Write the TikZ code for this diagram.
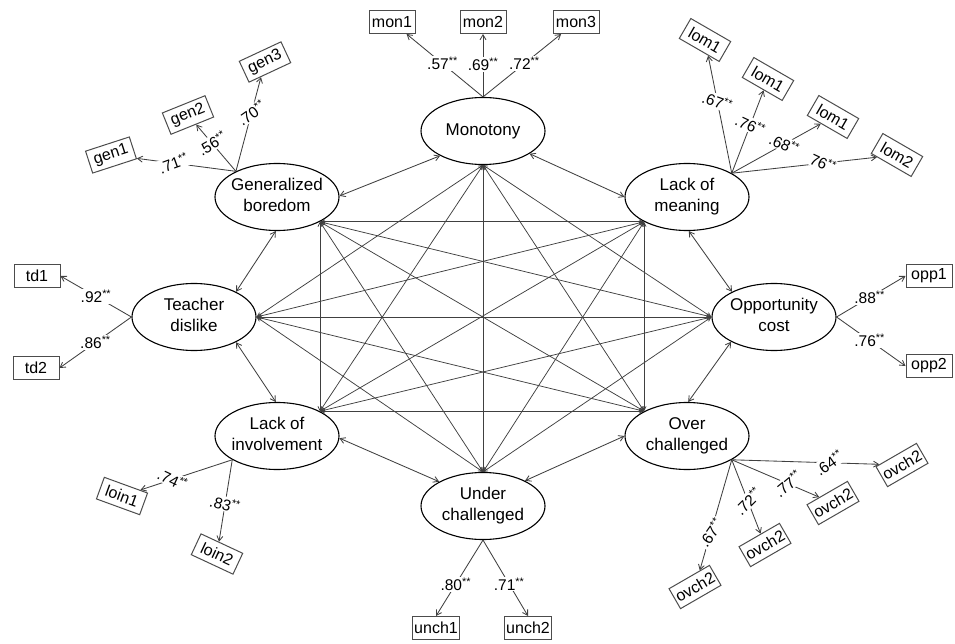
\documentclass[tikz,border=0pt]{standalone}
\usepackage{fontspec}
\setmainfont{Liberation Sans}
\usetikzlibrary{shapes.geometric,arrows.meta}
\newcommand\twol[2]{\makebox[0pt]{\begin{tabular}{@{}c@{}}#1\\#2\end{tabular}}}
\newcommand\sst{\textsuperscript{**}}
\tikzset{
  lat/.style={ellipse, draw=black, line width=1.1pt, minimum width=124pt, minimum height=67pt, inner sep=0pt, font=\fontsize{17}{21}\selectfont},
  obs/.style={draw=black!70, line width=1pt, minimum width=46pt, minimum height=23pt, inner sep=2pt, fill=white, font=\fontsize{16}{18}\selectfont},
  coef/.style={fill=white, inner sep=1pt, font=\fontsize{15.5}{17}\selectfont},
  ld/.style={draw=black!75, line width=0.85pt, -{Straight Barb[length=5pt,width=6pt]}},
  cov/.style={draw=black!75, line width=0.85pt, {Straight Barb[length=5pt,width=6pt]}-{Straight Barb[length=5pt,width=6pt]}},
  corr/.style={draw=black!75, line width=0.75pt, {Straight Barb[length=4pt,width=4pt]}-{Straight Barb[length=4pt,width=4pt]}}
}
\begin{document}
\begin{tikzpicture}[x=1pt,y=-1pt]
\useasboundingbox (0,0) rectangle (955,644);
% latent factors
\node[lat] (mon) at (483,131) {\makebox[0pt]{Monotony}};
\node[lat] (gen) at (277,197) {\twol{Generalized}{boredom}};
\node[lat] (lom) at (687,197) {\twol{Lack of}{meaning}};
\node[lat] (td)  at (194,317) {\twol{Teacher}{dislike}};
\node[lat] (opp) at (774,317) {\twol{Opportunity}{cost}};
\node[lat] (loi) at (277,436) {\twol{Lack of}{involvement}};
\node[lat] (ovc) at (687,436) {\twol{Over}{challenged}};
\node[lat] (unc) at (483,506) {\twol{Under}{challenged}};
% adjacent covariances
\draw[cov] (gen.1) -- (mon.210);
\draw[cov] (mon.334) -- (lom.180);
\draw[cov] (lom.273) -- (opp.149);
\draw[cov] (opp.210) -- (ovc.88);
\draw[cov] (ovc.180) -- (unc.31);
\draw[cov] (unc.151) -- (loi.358);
\draw[cov] (loi.92) -- (td.329);
\draw[cov] (td.31) -- (gen.268);
% inner correlation anchors
\coordinate (gI) at (gen.330);
\coordinate (mI) at (mon.270);
\coordinate (lI) at (lom.210);
\coordinate (tI) at (td.0);
\coordinate (oI) at (opp.180);
\coordinate (iI) at (loi.30);
\coordinate (vI) at (ovc.150);
\coordinate (uI) at (unc.90);
\draw[corr] (mI) -- (tI);
\draw[corr] (mI) -- (oI);
\draw[corr] (mI) -- (iI);
\draw[corr] (mI) -- (vI);
\draw[corr] (mI) -- (uI);
\draw[corr] (gI) -- (lI);
\draw[corr] (gI) -- (oI);
\draw[corr] (gI) -- (iI);
\draw[corr] (gI) -- (vI);
\draw[corr] (gI) -- (uI);
\draw[corr] (lI) -- (tI);
\draw[corr] (lI) -- (iI);
\draw[corr] (lI) -- (vI);
\draw[corr] (lI) -- (uI);
\draw[corr] (tI) -- (oI);
\draw[corr] (tI) -- (vI);
\draw[corr] (tI) -- (uI);
\draw[corr] (oI) -- (iI);
\draw[corr] (oI) -- (uI);
\draw[corr] (iI) -- (vI);
% loading origins
\coordinate (gP) at (gen.148);
\coordinate (mP) at (mon.90);
\coordinate (lP) at (lom.28);
\coordinate (tP) at (td.180);
\coordinate (oP) at (opp.0);
\coordinate (iP) at (loi.208);
\coordinate (uP) at (unc.270);
\coordinate (vP) at (ovc.332);
% indicators
\node[obs] (mon1) at (392,22) {mon1};
\node[obs] (mon2) at (483,22) {mon2};
\node[obs] (mon3) at (576,22) {mon3};
\node[obs, rotate=18] (gen1) at (111,155) {gen1};
\node[obs, rotate=22] (gen2) at (188,115) {gen2};
\node[obs, rotate=25] (gen3) at (265,62) {gen3};
\node[obs, rotate=-30] (lom1a) at (705,40) {lom1};
\node[obs, rotate=-30] (lom1b) at (768,79) {lom1};
\node[obs, rotate=-30] (lom1c) at (833,117) {lom1};
\node[obs, rotate=-30] (lom2) at (897,155) {lom2};
\node[obs] (td1) at (37,276) {td1};
\node[obs] (td2) at (36,368) {td2};
\node[obs] (opp1) at (929,276) {opp1};
\node[obs] (opp2) at (929,366) {opp2};
\node[obs, rotate=-20] (loin1) at (122,496) {loin1};
\node[obs, rotate=-25] (loin2) at (217,554) {loin2};
\node[obs] (unch1) at (436,628) {unch1};
\node[obs] (unch2) at (528,628) {unch2};
\node[obs, rotate=30] (ov1) at (695,587) {ovch2};
\node[obs, rotate=30] (ov2) at (765,545) {ovch2};
\node[obs, rotate=30] (ov3) at (833,503) {ovch2};
\node[obs, rotate=30] (ov4) at (902,465) {ovch2};
% loadings
\draw[ld] (mP) -- node[coef, pos=.53] {.57\sst} (mon1);
\draw[ld] (mP) -- node[coef, pos=.52] {.69\sst} (mon2);
\draw[ld] (mP) -- node[coef, pos=.53] {.72\sst} (mon3);
\draw[ld] (gP) -- node[coef, pos=.63, rotate=20] {.71\sst} (gen1);
\draw[ld] (gP) -- node[coef, pos=.6, rotate=30] {.56\sst} (gen2);
\draw[ld] (gP) -- node[coef, pos=.62, rotate=35] {.70\sst} (gen3);
\draw[ld] (lP) -- node[coef, pos=.61, rotate=-20] {.67\sst} (lom1a);
\draw[ld] (lP) -- node[coef, pos=.58, rotate=-25] {.76\sst} (lom1b);
\draw[ld] (lP) -- node[coef, pos=.59, rotate=-25] {.68\sst} (lom1c);
\draw[ld] (lP) -- node[coef, pos=.63, rotate=-25] {76\sst} (lom2);
\draw[ld] (tP) -- node[coef, pos=.5] {.92\sst} (td1.east);
\draw[ld] (tP) -- node[coef, pos=.5] {.86\sst} (td2.east);
\draw[ld] (oP) -- node[coef, pos=.48] {.88\sst} (opp1.west);
\draw[ld] (oP) -- node[coef, pos=.48] {.76\sst} (opp2.west);
\draw[ld] (iP) -- node[coef, pos=.65, rotate=-25] {.74\sst} (loin1);
\draw[ld] (iP) -- node[coef, pos=.54, rotate=-15] {.83\sst} (loin2);
\draw[ld] (uP) -- node[coef, pos=.58] {.80\sst} (unch1.north);
\draw[ld] (uP) -- node[coef, pos=.58] {.71\sst} (unch2.north);
\draw[ld] (vP) -- node[coef, pos=.66, rotate=55] {.67\sst} (ov1);
\draw[ld] (vP) -- node[coef, pos=.56, rotate=45] {.72\sst} (ov2);
\draw[ld] (vP) -- node[coef, pos=.64, rotate=40] {.77\sst} (ov3);
\draw[ld] (vP) -- node[coef, pos=.66, rotate=35] {.64\sst} (ov4);
\end{tikzpicture}
\end{document}
